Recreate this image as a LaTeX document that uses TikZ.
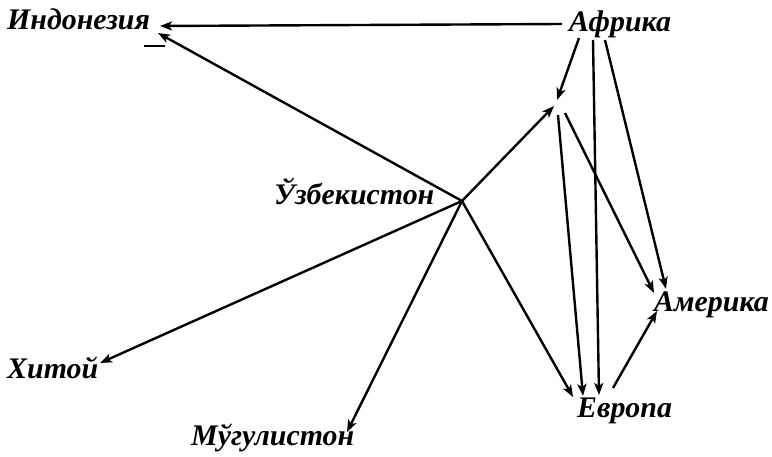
\documentclass[tikz,border=0pt]{standalone}
\usepackage{fontspec}
\setmainfont{Liberation Serif}
\usetikzlibrary{arrows.meta}
\begin{document}
\begin{tikzpicture}[x=1bp,y=-1bp,
  lbl/.style={inner sep=0pt,anchor=base west,font=\fontsize{30}{32}\selectfont\bfseries\itshape},
  conn/.style={line width=2.4bp,-{Stealth[length=12bp,width=9bp,inset=3bp]}},
  plain/.style={line width=2.4bp}]
\useasboundingbox (0,0) rectangle (772,457);
% labels
\node[lbl] (ind) at (7,30) {Индонезия};
\node[lbl] (afr) at (569,32) {Африка};
\node[lbl] (uzb) at (274,205) {Ўзбекистон};
\node[lbl] (ame) at (654,312) {Америка};
\node[lbl] (evr) at (577,417) {Европа};
\node[lbl] (xit) at (7,379) {Хитой};
\node[lbl] (mug) at (191,445) {Мўгулистон};
% junction points
\coordinate (hub) at (462,201);
\coordinate (junA) at (557,100);
\coordinate (junB) at (554,106);
\coordinate (junC) at (558,115);
\coordinate (junD) at (565,113);
% end points
\coordinate (afrW) at (562,24);
\coordinate (indE) at (160,26);
\coordinate (indS) at (158,33);
\coordinate (afr1) at (579,38);
\coordinate (afr2) at (593,40);
\coordinate (afr3) at (605,40);
\coordinate (xitE) at (100,363);
\coordinate (mugN) at (347,432);
\coordinate (evr1) at (573,397);
\coordinate (evr2) at (583,396);
\coordinate (evr3) at (599,395);
\coordinate (evrO) at (613,388);
\coordinate (ame1) at (654,293);
\coordinate (ame2) at (666,289);
\coordinate (ame3) at (657,311);
\coordinate (ulA) at (144,46);
\coordinate (ulB) at (165,46);
% connectors
\draw[conn] (afrW) -- (indE);
\draw[conn] (hub) -- (indS);
\draw[plain,line width=1.6bp] (ulA) -- (ulB);
\draw[conn] (hub) -- (xitE);
\draw[conn] (hub) -- (mugN);
\draw[conn] (hub) -- (evr1);
\draw[conn] (hub) -- (junB);
\draw[conn] (afr1) -- (junA);
\draw[conn] (afr2) -- (evr3);
\draw[conn] (afr3) -- (ame2);
\draw[conn] (junC) -- (evr2);
\draw[conn] (junD) -- (ame1);
\draw[conn] (evrO) -- (ame3);
\end{tikzpicture}
\end{document}
